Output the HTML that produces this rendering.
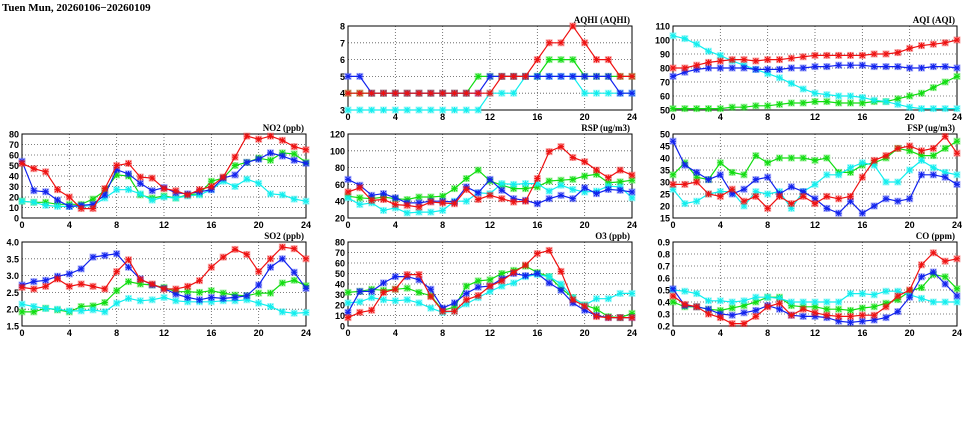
<!DOCTYPE html>
<html><head><meta charset="utf-8"><style>
html,body{margin:0;padding:0;background:#fff;}
svg{display:block;font-family:"Liberation Sans",sans-serif;}
</style></head><body>
<svg id="chart" width="975" height="447" viewBox="0 0 975 447">
<text x="2" y="11" font-family="Liberation Serif, serif" font-weight="bold" font-size="11">Tuen Mun, 20260106−20260109</text>
</svg>
<script>
const hours = [0,4,8,12,16,20,24];
const aqhiRed=[4,4,4,4,4,4,4,4,4,4,4,4,4,5,5,5,6,7,7,8,7,6,6,5,5];
const aqhiGreen=[4,4,4,4,4,4,4,4,4,4,4,5,5,5,5,5,5,6,6,6,5,5,5,5,5];
const aqhiBlue=[5,5,4,4,4,4,4,4,4,4,4,4,5,5,5,5,5,5,5,5,5,5,5,4,4];
const aqhiCyan=[3,3,3,3,3,3,3,3,3,3,3,3,4,4,4,5,5,5,5,5,4,4,4,4,4];
const aqhiTicks=[3,4,5,6,7,8];
const aqiRed=[80,80,82,84,85,86,86,85,86,86,87,88,89,89,89,89,89,90,90,91,94,96,97,98,100];
const aqiGreen=[51,51,51,51,51,52,52,53,53,54,55,55,56,56,55,55,55,56,56,58,60,62,66,70,74];
const aqiBlue=[74,77,79,80,80,80,80,79,79,79,80,80,81,81,82,82,82,81,81,81,80,80,81,81,80];
const aqiCyan=[103,101,97,92,89,85,82,79,76,73,69,65,62,61,60,60,59,57,56,54,52,51,51,51,51];
const aqiTicks=[50,60,70,80,90,100,110];
const no2Red=[52,47,44,27,20,9,9,28,50,52,39,38,28,26,22,27,30,39,58,78,75,78,74,68,65];
const no2Green=[16,15,15,13,13,13,18,26,41,40,22,19,21,19,22,23,35,38,50,53,57,55,62,61,53];
const no2Blue=[54,26,25,17,11,12,13,22,46,42,33,26,29,24,23,25,27,38,41,53,56,62,59,55,52];
const no2Cyan=[16,15,12,11,11,11,12,19,27,27,23,17,20,19,21,22,27,35,30,37,33,23,22,18,16];
const no2Ticks=[0,10,20,30,40,50,60,70,80];
const rspRed=[51,56,41,42,36,35,33,39,38,37,54,42,47,43,39,40,67,99,105,92,87,77,68,77,71];
const rspGreen=[46,44,43,45,43,42,45,45,46,55,67,77,64,59,55,55,57,64,65,66,70,72,62,63,65];
const rspBlue=[66,59,47,49,44,38,38,40,40,39,57,50,66,53,43,41,37,43,47,43,56,49,54,53,51];
const rspCyan=[44,36,38,29,32,26,27,27,29,40,40,50,49,61,60,61,61,52,59,54,51,52,58,57,44];
const rspTicks=[20,40,60,80,100,120];
const fspRed=[29,29,30,25,24,27,22,24,19,24,21,24,21,24,23,24,32,39,41,44,45,43,44,49,42];
const fspGreen=[33,38,32,31,38,34,33,41,38,40,40,40,39,40,34,34,37,38,40,44,43,41,41,44,47];
const fspBlue=[47,37,34,31,33,25,27,31,32,25,28,26,23,19,17,22,17,20,23,22,23,33,33,32,29];
const fspCyan=[27,21,22,25,26,26,20,26,25,26,19,26,29,33,33,36,38,37,30,30,35,39,36,34,33];
const fspTicks=[15,20,25,30,35,40,45,50];
const so2Red=[2.65,2.6,2.68,2.9,2.68,2.75,2.68,2.6,3.12,3.47,2.88,2.75,2.6,2.6,2.68,2.85,3.25,3.55,3.78,3.63,3.12,3.5,3.85,3.8,3.5];
const so2Green=[1.92,1.92,2.03,1.98,1.92,2.08,2.1,2.2,2.55,2.82,2.75,2.72,2.65,2.52,2.52,2.5,2.55,2.48,2.42,2.4,2.48,2.48,2.78,2.86,2.7];
const so2Blue=[2.72,2.82,2.86,2.98,3.05,3.2,3.55,3.6,3.65,3.25,2.9,2.72,2.62,2.45,2.35,2.28,2.35,2.32,2.35,2.4,2.72,3.25,3.5,3.1,2.62];
const so2Cyan=[2.15,2.08,2.02,2.0,1.95,1.95,1.98,1.92,2.18,2.32,2.25,2.28,2.35,2.25,2.22,2.22,2.22,2.25,2.25,2.28,2.18,2.08,1.92,1.88,1.9];
const so2Ticks=[1.5,2.0,2.5,3.0,3.5,4.0];
const o3Red=[8,13,15,32,35,49,49,28,14,14,25,29,38,43,51,58,69,72,52,25,19,9,8,8,8];
const o3Green=[32,33,35,34,35,36,32,29,15,18,38,43,44,50,53,57,51,47,36,27,20,16,9,8,12];
const o3Blue=[13,33,33,41,47,47,44,35,17,22,31,37,38,45,50,48,50,41,34,22,15,10,8,8,8];
const o3Cyan=[22,23,27,25,24,25,22,17,13,14,21,27,33,38,41,47,49,47,40,27,20,26,26,31,31];
const o3Ticks=[0,10,20,30,40,50,60,70,80];
const coRed=[.45,.38,.36,.30,.27,.22,.22,.28,.36,.39,.29,.34,.31,.29,.28,.28,.29,.29,.36,.45,.50,.71,.81,.74,.76];
const coGreen=[.40,.36,.36,.34,.33,.35,.37,.40,.44,.44,.37,.36,.36,.34,.34,.33,.35,.36,.39,.42,.49,.52,.63,.61,.51];
const coBlue=[.51,.37,.36,.34,.30,.29,.31,.33,.37,.34,.29,.28,.28,.27,.24,.23,.24,.25,.27,.32,.44,.61,.65,.55,.45];
const coCyan=[.50,.49,.47,.41,.41,.40,.41,.44,.44,.43,.40,.40,.40,.40,.40,.47,.47,.46,.49,.49,.46,.43,.40,.40,.40];
const coTicks=[0.2,0.3,0.4,0.5,0.6,0.7,0.8,0.9];

const NS="http://www.w3.org/2000/svg";
const svg=document.getElementById('chart');
const colors={red:'#ee1111',green:'#11dd11',blue:'#1122ee',cyan:'#11eeee'};
function mk(tag,attrs,parent){const e=document.createElementNS(NS,tag);for(const k in attrs)e.setAttribute(k,attrs[k]);parent.appendChild(e);return e;}

function panel(name,title,x0,y0,ticks,dec,series){
  const w=284,h=84,x1=x0+w,y1=y0+h;
  const ymin=ticks[0],ymax=ticks[ticks.length-1];
  const xs=v=>x0+v/24*w;
  const ys=v=>y1-(v-ymin)/(ymax-ymin)*h;
  const g=mk('g',{},svg);
  
  
  ticks.forEach((t,i)=>{
    const y=ys(t);
    if(i>0&&i<ticks.length-1){const gl=mk('line',{x1:x0,x2:x1,y1:y,y2:y,stroke:'#555','stroke-width':0.8,'stroke-dasharray':'1,2'},g);
      }
    const tl=mk('text',{x:x0-3,y:y+3.5,'text-anchor':'end','font-size':9,'font-weight':'bold'},g);
    tl.textContent=t.toFixed(dec);
    
  });
  hours.forEach((hv,i)=>{
    const x=xs(hv);
    if(i>0&&i<hours.length-1){const gl=mk('line',{x1:x,x2:x,y1:y0,y2:y1,stroke:'#555','stroke-width':0.8,'stroke-dasharray':'1,2'},g);
      }
    const tl=mk('text',{x:x,y:y1+10,'text-anchor':'middle','font-size':9,'font-weight':'bold'},g);
    tl.textContent=hv;
    
  });
  const box=mk('rect',{x:x0,y:y0,width:w,height:h,fill:'none',stroke:'#000','stroke-width':1},g);
  
  const tt=mk('text',{x:x1-2,y:y0-3,'text-anchor':'end','font-size':9,'font-weight':'bold','font-family':'Liberation Serif, serif'},g);
  tt.textContent=title;
  
  series.forEach(([cname,vals])=>{
    const c=colors[cname];
    const pts=vals.map((v,i)=>xs(i).toFixed(1)+','+ys(v).toFixed(1)).join(' ');
    const pl=mk('polyline',{points:pts,fill:'none',stroke:c,'stroke-width':1.2},g);
    
    
    vals.forEach((v,i)=>{
      const px=xs(i),py=ys(v);
      const m=mk('g',{},g);
      
      
      mk('rect',{x:px-3.5,y:py-3.5,width:7,height:7,fill:c,opacity:0.35},m);
      const d=`M${px-3},${py}H${px+3}M${px},${py-3}V${py+3}M${px-2.5},${py-2.5}L${px+2.5},${py+2.5}M${px-2.5},${py+2.5}L${px+2.5},${py-2.5}`;
      mk('path',{d:d,stroke:c,'stroke-width':1,fill:'none'},m);
    });
  });
}
panel('aqhi','AQHI (AQHI)',348,26,aqhiTicks,0,[['green',aqhiGreen],['cyan',aqhiCyan],['blue',aqhiBlue],['red',aqhiRed]]);
panel('aqi','AQI (AQI)',673,26,aqiTicks,0,[['green',aqiGreen],['cyan',aqiCyan],['blue',aqiBlue],['red',aqiRed]]);
panel('no2','NO2 (ppb)',22,134,no2Ticks,0,[['green',no2Green],['cyan',no2Cyan],['blue',no2Blue],['red',no2Red]]);
panel('rsp','RSP (ug/m3)',348,134,rspTicks,0,[['green',rspGreen],['cyan',rspCyan],['blue',rspBlue],['red',rspRed]]);
panel('fsp','FSP (ug/m3)',673,134,fspTicks,0,[['green',fspGreen],['cyan',fspCyan],['blue',fspBlue],['red',fspRed]]);
panel('so2','SO2 (ppb)',22,242,so2Ticks,1,[['green',so2Green],['cyan',so2Cyan],['blue',so2Blue],['red',so2Red]]);
panel('o3','O3 (ppb)',348,242,o3Ticks,0,[['green',o3Green],['cyan',o3Cyan],['blue',o3Blue],['red',o3Red]]);
panel('co','CO (ppm)',673,242,coTicks,1,[['green',coGreen],['cyan',coCyan],['blue',coBlue],['red',coRed]]);
</script>
</body></html>
